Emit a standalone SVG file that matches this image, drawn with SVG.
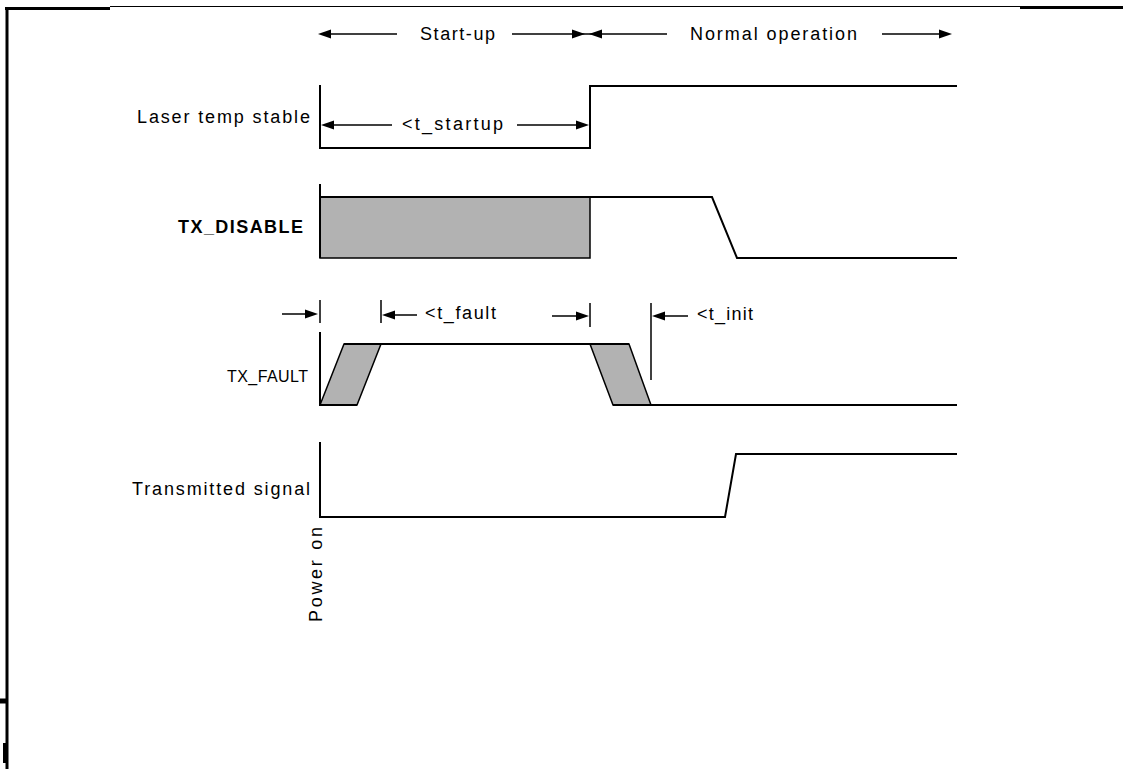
<svg xmlns="http://www.w3.org/2000/svg" width="1123" height="769" viewBox="0 0 1123 769">
<style>
.t{font-family:"Liberation Sans",Arial,sans-serif;font-size:18px;fill:#000}
.s{font-size:16px}
.b{font-weight:bold}
.sig{fill:none;stroke:#000;stroke-width:2;stroke-linejoin:miter}
.thin{fill:none;stroke:#000;stroke-width:1.5}
.shade{fill:#b2b2b2;stroke:#000;stroke-width:1.5}
.ah{fill:#000}
.bd{stroke:#000;fill:none}
</style>
<rect width="1123" height="769" fill="#fff"/>
<g id="frame">
<line class="bd" x1="110" y1="6.5" x2="1020" y2="6.5" stroke-width="1.2"/>
<line class="bd" x1="5" y1="8.5" x2="110" y2="8.5" stroke-width="3"/>
<line class="bd" x1="1020" y1="7.5" x2="1123" y2="7.5" stroke-width="3"/>
<line class="bd" x1="7" y1="7" x2="7" y2="769" stroke-width="3"/>
<line class="bd" x1="0" y1="701" x2="7" y2="701" stroke-width="5"/>
<line class="bd" x1="4.5" y1="743" x2="4.5" y2="763" stroke-width="3"/>
</g>
<g id="header">
<text class="t" x="420" y="40" textLength="75" lengthAdjust="spacing">Start-up</text>
<text class="t" x="690" y="40" textLength="167" lengthAdjust="spacing">Normal operation</text>
</g>
<g id="laser-temp-stable">
<text class="t" x="137" y="123" textLength="173" lengthAdjust="spacing">Laser temp stable</text>
<polyline class="sig" points="320,85 320,148 590,148 590,86 957,86"/>
</g>
<g id="tx-disable">
<text class="t b" x="178" y="233" textLength="125" lengthAdjust="spacing">TX_DISABLE</text>
<rect class="shade" x="320" y="197" width="270" height="61"/>
<polyline class="sig" points="320,184 320,197 712,197 737,258 957,258"/>
<line class="sig" x1="320" y1="197" x2="320" y2="258"/>
</g>
<g id="tx-fault">
<text class="t s" x="227" y="382" textLength="81" lengthAdjust="spacing">TX_FAULT</text>
<polygon class="shade" points="320,405 344,344 381,344 357,405"/>
<polygon class="shade" points="590,344 629,344 651,405 613,405"/>
<polyline class="sig" points="320,332 320,405 357,405"/>
<line class="sig" x1="344" y1="344" x2="629" y2="344"/>
<line class="sig" x1="613" y1="405" x2="957" y2="405"/>
</g>
<g id="transmitted-signal">
<text class="t" x="132" y="495" textLength="178" lengthAdjust="spacing">Transmitted signal</text>
<polyline class="sig" points="320,442 320,517 725,517 736,454 957,454"/>
<text class="t" transform="translate(322,622) rotate(-90)" textLength="95" lengthAdjust="spacing">Power on</text>
</g>
<g id="connectors">
<line class="thin" x1="330" y1="34" x2="397" y2="34"/>
<polygon class="ah" points="318,34 331,29.5 331,38.5"/>
<line class="thin" x1="512" y1="34" x2="667" y2="34"/>
<polygon class="ah" points="585,34 572,29.5 572,38.5"/>
<polygon class="ah" points="589,34 602,29.5 602,38.5"/>
<line class="thin" x1="882" y1="34" x2="940" y2="34"/>
<polygon class="ah" points="952,34 939,29.5 939,38.5"/>
<line class="thin" x1="332" y1="125" x2="392" y2="125"/>
<polygon class="ah" points="321,125 334,120.5 334,129.5"/>
<text class="t" x="402" y="130" textLength="101" lengthAdjust="spacing">&lt;t_startup</text>
<line class="thin" x1="517" y1="125" x2="578" y2="125"/>
<polygon class="ah" points="589,125 576,120.5 576,129.5"/>
<line class="thin" x1="282" y1="314" x2="306" y2="314"/>
<polygon class="ah" points="318,314 305,309.5 305,318.5"/>
<line class="thin" x1="320" y1="300" x2="320" y2="323"/>
<line class="thin" x1="381" y1="300" x2="381" y2="323"/>
<polygon class="ah" points="382,315 395,310.5 395,319.5"/>
<line class="thin" x1="394" y1="315" x2="417" y2="315"/>
<text class="t" x="425" y="319" textLength="71" lengthAdjust="spacing">&lt;t_fault</text>
<line class="thin" x1="552" y1="316" x2="577" y2="316"/>
<polygon class="ah" points="589,316 576,311.5 576,320.5"/>
<line class="thin" x1="590" y1="303" x2="590" y2="327"/>
<line class="thin" x1="651" y1="303" x2="651" y2="380"/>
<polygon class="ah" points="652,316 665,311.5 665,320.5"/>
<line class="thin" x1="664" y1="316" x2="688" y2="316"/>
<text class="t" x="697" y="320" textLength="56" lengthAdjust="spacing">&lt;t_init</text>
</g>
</svg>
